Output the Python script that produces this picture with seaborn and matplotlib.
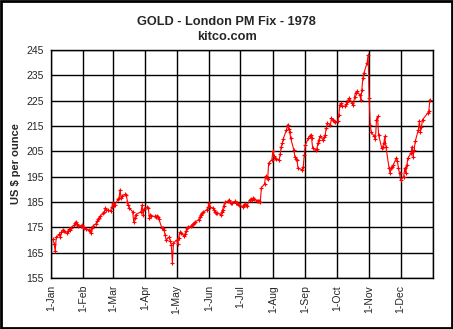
import matplotlib
matplotlib.use("Agg")
import matplotlib.pyplot as plt
import matplotlib.patches as mpatches
import seaborn as sns
import pandas as pd

dates = [
    "1978-01-03", "1978-01-04", "1978-01-05", "1978-01-06", "1978-01-09", "1978-01-10", "1978-01-11",
    "1978-01-12", "1978-01-13", "1978-01-16", "1978-01-17", "1978-01-18", "1978-01-19", "1978-01-20",
    "1978-01-23", "1978-01-24", "1978-01-25", "1978-01-26", "1978-01-27", "1978-01-30", "1978-01-31",
    "1978-02-01", "1978-02-02", "1978-02-03", "1978-02-06", "1978-02-07", "1978-02-08", "1978-02-09",
    "1978-02-10", "1978-02-13", "1978-02-14", "1978-02-15", "1978-02-16", "1978-02-17", "1978-02-20",
    "1978-02-21", "1978-02-22", "1978-02-23", "1978-02-24", "1978-02-27", "1978-02-28",
    "1978-03-01", "1978-03-02", "1978-03-03", "1978-03-06", "1978-03-07", "1978-03-08", "1978-03-09",
    "1978-03-10", "1978-03-13", "1978-03-14", "1978-03-15", "1978-03-16", "1978-03-17", "1978-03-20",
    "1978-03-21", "1978-03-22", "1978-03-23", "1978-03-28", "1978-03-29", "1978-03-30", "1978-03-31",
    "1978-04-03", "1978-04-04", "1978-04-05", "1978-04-06", "1978-04-07", "1978-04-10", "1978-04-11",
    "1978-04-12", "1978-04-13", "1978-04-14", "1978-04-17", "1978-04-18", "1978-04-19", "1978-04-20",
    "1978-04-21", "1978-04-24", "1978-04-25", "1978-04-26", "1978-04-27", "1978-04-28",
    "1978-05-01", "1978-05-02", "1978-05-03", "1978-05-04", "1978-05-05", "1978-05-08", "1978-05-09",
    "1978-05-10", "1978-05-11", "1978-05-12", "1978-05-15", "1978-05-16", "1978-05-17", "1978-05-18",
    "1978-05-19", "1978-05-22", "1978-05-23", "1978-05-24", "1978-05-25", "1978-05-26", "1978-05-30",
    "1978-05-31", "1978-06-01", "1978-06-02", "1978-06-05", "1978-06-06", "1978-06-07", "1978-06-08",
    "1978-06-09", "1978-06-12", "1978-06-13", "1978-06-14", "1978-06-15", "1978-06-16", "1978-06-19",
    "1978-06-20", "1978-06-21", "1978-06-22", "1978-06-23", "1978-06-26", "1978-06-27", "1978-06-28",
    "1978-06-29", "1978-06-30", "1978-07-03", "1978-07-04", "1978-07-05", "1978-07-06", "1978-07-07",
    "1978-07-10", "1978-07-11", "1978-07-12", "1978-07-13", "1978-07-14", "1978-07-17", "1978-07-18",
    "1978-07-19", "1978-07-20", "1978-07-21", "1978-07-24", "1978-07-25", "1978-07-26", "1978-07-27",
    "1978-07-28", "1978-07-31", "1978-08-01", "1978-08-02", "1978-08-03", "1978-08-04", "1978-08-07",
    "1978-08-08", "1978-08-09", "1978-08-10", "1978-08-11", "1978-08-14", "1978-08-15", "1978-08-16",
    "1978-08-17", "1978-08-18", "1978-08-21", "1978-08-22", "1978-08-23", "1978-08-24", "1978-08-25",
    "1978-08-29", "1978-08-30", "1978-08-31", "1978-09-01", "1978-09-04", "1978-09-05", "1978-09-06",
    "1978-09-07", "1978-09-08", "1978-09-11", "1978-09-12", "1978-09-13", "1978-09-14", "1978-09-15",
    "1978-09-18", "1978-09-19", "1978-09-20", "1978-09-21", "1978-09-22", "1978-09-25", "1978-09-26",
    "1978-09-27", "1978-09-28", "1978-09-29", "1978-10-02", "1978-10-03", "1978-10-04", "1978-10-05",
    "1978-10-06", "1978-10-09", "1978-10-10", "1978-10-11", "1978-10-12", "1978-10-13", "1978-10-16",
    "1978-10-17", "1978-10-18", "1978-10-19", "1978-10-20", "1978-10-23", "1978-10-24", "1978-10-25",
    "1978-10-26", "1978-10-27", "1978-10-30", "1978-10-31", "1978-11-01", "1978-11-02", "1978-11-03",
    "1978-11-06", "1978-11-07", "1978-11-08", "1978-11-09", "1978-11-10", "1978-11-13", "1978-11-14",
    "1978-11-15", "1978-11-16", "1978-11-17", "1978-11-20", "1978-11-21", "1978-11-22", "1978-11-23",
    "1978-11-24", "1978-11-27", "1978-11-28", "1978-11-29", "1978-11-30", "1978-12-01", "1978-12-04",
    "1978-12-05", "1978-12-06", "1978-12-07", "1978-12-08", "1978-12-11", "1978-12-12", "1978-12-13",
    "1978-12-14", "1978-12-15", "1978-12-18", "1978-12-19", "1978-12-20", "1978-12-21", "1978-12-22",
    "1978-12-27", "1978-12-28", "1978-12-29",
]

prices = [
    170.2, 168.5, 165.6, 171.0, 172.2, 171.2, 173.0,
    174.0, 173.4, 172.6, 173.5, 174.2, 173.8, 174.8,
    175.8, 176.6, 177.2, 176.5, 175.7, 175.5, 175.8,
    175.2, 174.8, 174.5, 174.0, 173.6, 172.8, 174.8,
    175.5, 176.5, 177.4, 178.2, 178.8, 179.5, 180.5,
    181.2, 182.7, 182.0, 181.8, 181.5, 183.0,
    184.5, 183.8, 184.0, 186.0, 186.6, 189.8, 186.5,
    187.5, 188.0, 187.8, 185.0, 183.7, 182.5, 181.2,
    177.3, 178.8, 180.0, 181.2, 183.7, 180.0, 182.4,
    183.0, 182.6, 178.6, 180.0, 179.6, 179.3, 179.0,
    179.5, 179.0, 178.4, 174.6, 174.8, 174.0, 172.0,
    170.0, 171.2, 169.6, 168.0, 160.8, 168.8,
    170.0, 168.5, 170.7, 173.0, 172.7, 171.7, 172.4,
    173.5, 174.7, 175.0, 175.5, 175.8, 176.2, 176.6,
    177.2, 178.0, 179.0, 180.0, 180.5, 180.9, 182.0,
    183.0, 184.5, 183.0, 182.5, 181.7, 181.2, 180.8,
    180.8, 180.0, 181.0, 182.0, 183.5, 184.9, 185.2,
    185.6, 185.0, 184.6, 184.8, 185.2, 184.8, 184.5,
    184.2, 184.0, 183.0, 183.8, 184.2, 183.8, 183.3,
    185.9, 186.2, 185.8, 186.5, 186.0, 185.5, 185.2,
    185.4, 185.0, 190.7, 192.0, 195.2, 194.5, 194.0,
    200.4, 201.6, 205.0, 203.0, 202.5, 202.0, 201.6,
    204.0, 206.9, 208.2, 210.0, 213.5, 215.5, 214.0,
    212.8, 210.2, 205.6, 202.9, 202.0, 201.6, 198.4,
    197.7, 199.0, 203.6, 207.5, 210.2, 210.9, 211.5,
    210.2, 206.3, 205.6, 205.8, 208.2, 209.5, 210.9,
    209.6, 210.5, 211.5, 214.2, 216.1, 215.5, 218.1,
    217.5, 216.8, 216.4, 216.8, 219.4, 223.4, 223.9,
    223.0, 222.7, 223.5, 224.5, 225.4, 226.0, 223.9,
    223.4, 226.5, 228.0, 228.7, 227.4, 225.4, 229.3,
    234.0, 235.9, 239.9, 243.1, 226.0, 215.5, 212.5,
    210.9, 209.8, 217.5, 218.8, 211.5, 206.3, 206.9,
    208.2, 210.9, 206.9, 198.4, 196.4, 198.4, 199.0,
    199.6, 202.3, 201.0, 198.4, 196.4, 193.7, 195.0,
    198.4, 196.4, 199.6, 202.3, 204.3, 206.9, 202.9,
    205.6, 208.9, 213.5, 216.8, 212.8, 214.8, 217.5,
    220.1, 220.8, 225.4,
]

month_ticks = ["1978-01-01", "1978-02-01", "1978-03-01", "1978-04-01", "1978-05-01", "1978-06-01",
               "1978-07-01", "1978-08-01", "1978-09-01", "1978-10-01", "1978-11-01", "1978-12-01",
               "1979-01-01"]
month_labels = ["1-Jan", "1-Feb", "1-Mar", "1-Apr", "1-May", "1-Jun", "1-Jul", "1-Aug",
                "1-Sep", "1-Oct", "1-Nov", "1-Dec", ""]
y_ticks = [155, 165, 175, 185, 195, 205, 215, 225, 235, 245]

title_line1 = "GOLD - London PM Fix - 1978"
title_line2 = "kitco.com"
y_label = "US $ per ounce"

sns.set_style("white")
plt.rcParams["font.family"] = ["Liberation Sans", "DejaVu Sans"]

df = pd.DataFrame({"date": pd.to_datetime(dates), "price": prices})

fig = plt.figure(figsize=(4.53, 3.29), dpi=100)
ax = fig.add_axes([51 / 453, 1 - 278 / 329, (433 - 51) / 453, (278 - 50) / 329])

sns.lineplot(data=df, x="date", y="price", ax=ax, color="#ff0000", linewidth=0.8,
             marker="+", markersize=3.5, markeredgewidth=0.8, markeredgecolor="#ff0000")

ax.set_xlim(pd.Timestamp(month_ticks[0]), pd.Timestamp(month_ticks[-1]))
ax.set_ylim(y_ticks[0], y_ticks[-1])
ax.set_xticks(pd.to_datetime(month_ticks))
ax.set_xticklabels(month_labels, rotation=90, fontsize=7.5)
ax.set_yticks(y_ticks)
ax.set_yticklabels([str(v) for v in y_ticks], fontsize=7.5)
ax.grid(True, color="black", linewidth=1.0)
ax.set_axisbelow(True)
for s in ax.spines.values():
    s.set_color("black")
    s.set_linewidth(1.0)
ax.tick_params(axis="both", direction="inout", length=6, width=1, color="black", pad=2)
ax.set_xlabel("")
ax.set_ylabel(y_label, fontsize=8, fontweight="bold", labelpad=4)

fig.text(0.5, 1 - 22 / 329, title_line1, ha="center", va="center", fontsize=9.2, fontweight="bold")
fig.text(0.5, 1 - 37 / 329, title_line2, ha="center", va="center", fontsize=9.2, fontweight="bold")

fig.patches.append(mpatches.Rectangle((0.002, 0.003), 0.996, 0.994, transform=fig.transFigure,
                                      fill=False, edgecolor="black", linewidth=2))

fig.savefig("out.png", dpi=100)
